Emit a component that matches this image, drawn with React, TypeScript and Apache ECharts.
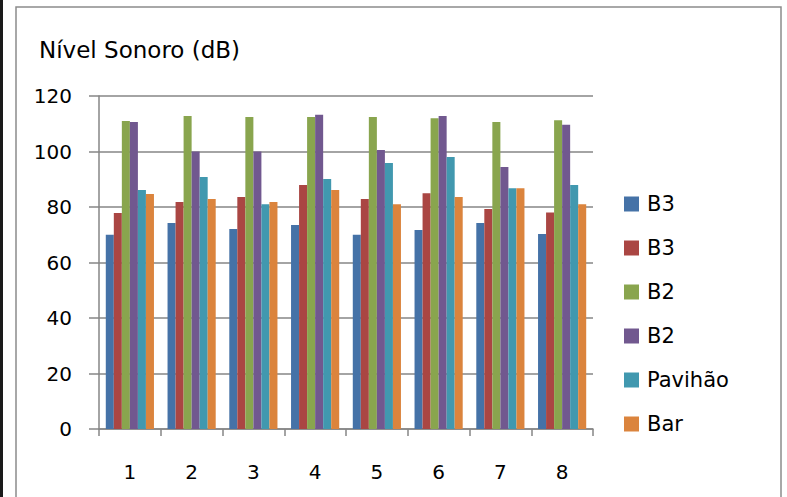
import React, { useEffect, useRef } from "react";
import * as echarts from "echarts";

const categories = ["1", "2", "3", "4", "5", "6", "7", "8"];
const seriesNames = ["B3", "B3 ", "B2", "B2 ", "Pavihão", "Bar"];
const b3a = [70, 74.2, 72.1, 73.5, 70, 71.7, 74.2, 70.3];
const b3b = [77.8, 81.8, 83.6, 87.9, 82.9, 85, 79.3, 78];
const b2a = [111, 112.8, 112.4, 112.4, 112.4, 112, 110.6, 111.3];
const b2b = [110.6, 100, 100, 113.2, 100.5, 112.8, 94.4, 109.6];
const pavilhao = [86.1, 90.8, 81, 90.1, 95.9, 98, 86.8, 87.9];
const bar = [84.7, 82.9, 81.8, 86.1, 81, 83.6, 86.8, 81];
const colors = ["#4572A7", "#AA4643", "#89A54E", "#71588F", "#4198AF", "#DB843D"];
const titleText = "Nível Sonoro (dB)";

const FONT = "DejaVu Sans";

export default function App() {
  const ref = useRef<HTMLDivElement>(null);
  useEffect(() => {
    document.body.style.margin = "0";
    const chart = echarts.init(ref.current!, null, { renderer: "svg" });
    const values = [b3a, b3b, b2a, b2b, pavilhao, bar];
    chart.setOption({
      animation: false,
      backgroundColor: "#ffffff",
      color: colors,
      title: {
        text: titleText,
        left: 39,
        top: 36,
        padding: 0,
        textStyle: {
          fontFamily: FONT,
          fontSize: 23,
          fontWeight: "normal",
          color: "#000",
          lineHeight: 28,
        },
      },
      graphic: [
        {
          type: "rect",
          shape: { x: 16, y: 7, width: 765, height: 500 },
          style: { fill: "none", stroke: "#8c8c8c", lineWidth: 1.5 },
          silent: true,
        },
        {
          type: "rect",
          shape: { x: 0, y: 0, width: 3, height: 497 },
          style: { fill: "#1a1a1a" },
          silent: true,
        },
      ],
      legend: {
        orient: "vertical",
        left: 624,
        top: 193,
        padding: 0,
        itemWidth: 15,
        itemHeight: 15,
        itemGap: 22,
        icon: "rect",
        selectedMode: false,
        data: seriesNames,
        formatter: (n: string) => n.trim(),
        textStyle: {
          fontFamily: FONT,
          fontSize: 21,
          color: "#000",
          lineHeight: 22,
          padding: [0, 0, 0, 3],
        },
      },
      grid: { left: 99, right: 194, top: 96, bottom: 68, containLabel: false },
      xAxis: {
        type: "category",
        data: categories,
        boundaryGap: true,
        axisLine: { lineStyle: { color: "#868686", width: 1.5 } },
        axisTick: { show: true, length: 7, alignWithLabel: false, lineStyle: { color: "#868686", width: 1.5 } },
        axisLabel: { fontFamily: FONT, fontSize: 20, color: "#000", margin: 33 },
      },
      yAxis: {
        type: "value",
        min: 0,
        max: 120,
        interval: 20,
        axisLine: { show: true, lineStyle: { color: "#868686", width: 1.5 } },
        axisTick: { show: true, length: 10, lineStyle: { color: "#868686", width: 1.5 } },
        axisLabel: { fontFamily: FONT, fontSize: 20, color: "#000", margin: 27 },
        splitLine: { show: true, lineStyle: { color: "#868686", width: 1.5 } },
      },
      series: seriesNames.map((name, i) => ({
        name,
        type: "bar",
        data: values[i],
        barGap: "0%",
        barCategoryGap: "22%",
        itemStyle: { color: colors[i] },
      })),
    });
    return () => chart.dispose();
  }, []);
  return <div ref={ref} style={{ width: 787, height: 497 }} />;
}
